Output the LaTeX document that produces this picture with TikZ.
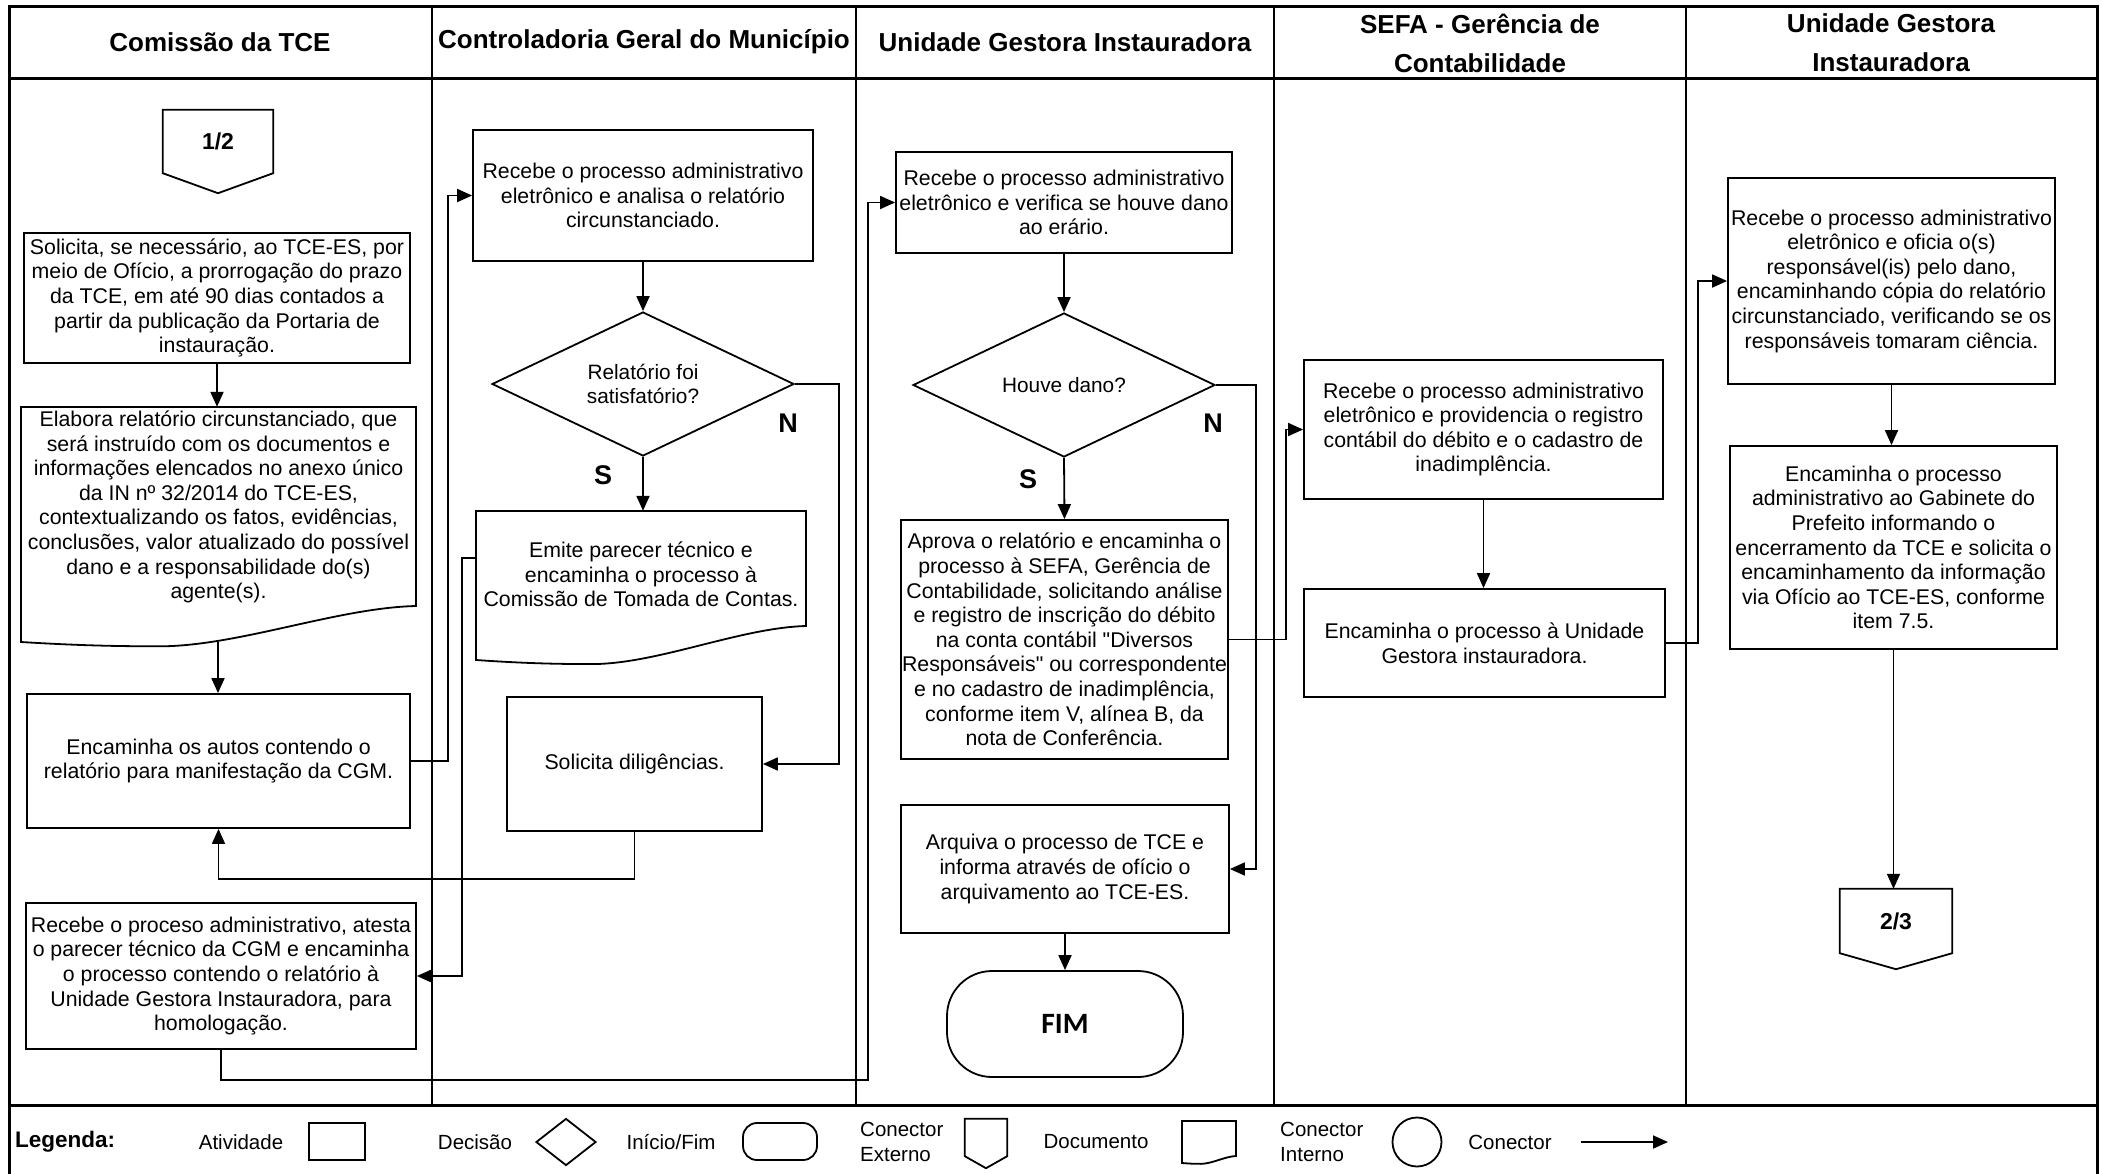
\documentclass[tikz,border=0pt]{standalone}
\usepackage{fontspec}
\setmainfont{Liberation Sans}[Ligatures=TeXOff]
\newfontfamily\fimfont{Carlito}
\usetikzlibrary{arrows.meta,calc,shapes.geometric}
\tikzset{
 frameline/.style={line width=3pt},
 laneline/.style={line width=2pt},
 act/.style={draw, line width=1.8pt, align=center, inner sep=0pt, font=\fontsize{21.3}{24.6}\selectfont},
 doctext/.style={align=center, inner sep=0pt, font=\fontsize{21.3}{24.6}\selectfont},
 dec/.style={draw, diamond, aspect=2.1, line width=1.8pt, align=center, inner sep=0pt, font=\fontsize{20.8}{24}\selectfont},
 term/.style={draw, rounded corners=45pt, line width=1.8pt, font=\fimfont\bfseries\fontsize{29.5}{32}\selectfont},
 shapeline/.style={line width=1.8pt},
 conn/.style={line width=1.8pt, -{Triangle[length=15pt,width=13pt]}},
 hdr/.style={font=\bfseries\fontsize{26}{39}\selectfont, align=center},
 yn/.style={font=\bfseries\fontsize{27}{30}\selectfont},
 offpage/.style={inner sep=0pt, font=\bfseries\fontsize{23}{26}\selectfont},
 legtext/.style={font=\fontsize{20.5}{25}\selectfont, align=left, inner sep=0pt},
 legshape/.style={draw, line width=1.8pt, inner sep=0pt},
}
% document outline: x0 x1 top yRight depth
\newcommand\mydoc[5]{\draw[shapeline] (#1,#3) -- (#2,#3) -- (#2,#4) .. controls ({#1+0.8*(#2-#1)},{#4+0.05*#5}) and ({#1+0.55*(#2-#1)},{#4+1.12*#5}) .. ({#1+0.35*(#2-#1)},{#4+1.12*#5}) .. controls ({#1+0.22*(#2-#1)},{#4+1.12*#5}) and ({#1+0.12*(#2-#1)},{#4+1.08*#5}) .. (#1,{#4+#5}) -- cycle;}
\begin{document}
\begin{tikzpicture}[x=1pt,y=-1pt]
\useasboundingbox (0,0) rectangle (2102,1173);
\fill[white] (0,0) rectangle (2102,1173);
% frame
\draw[frameline] (9,6) rectangle (2097,1178);
\draw[frameline] (9,78) -- (2097,78);
\draw[frameline] (9,1105) -- (2097,1105);
\foreach \x in {432,856,1274,1686} \draw[laneline] (\x,6) -- (\x,1105);
% headers
\node[hdr] (h1) at (220,42) {Comissão da TCE};
\node[hdr] (h2) at (644,42) {Controladoria Geral do Município};
\node[hdr] (h3) at (1065,42) {Unidade Gestora Instauradora};
\node[hdr] (h4) at (1480,43) {SEFA - Gerência de\\Contabilidade};
\node[hdr] (h5) at (1891,43) {Unidade Gestora\\Instauradora};

% lane 1
\node[offpage, minimum width=110pt, minimum height=63pt] (c12) at (218,141.5) {1/2};
\draw[shapeline] (c12.north west) -- (c12.north east) -- (c12.south east) -- ($(c12.south)+(0,20)$) -- (c12.south west) -- cycle;
\node[act, minimum width=386pt, minimum height=130pt] (solicita) at (217,298) {Solicita, se necessário, ao TCE-ES,  por\\meio de Ofício, a prorrogação do prazo\\da TCE,  em até 90 dias contados a\\partir da publicação da Portaria de\\instauração.};
\node[doctext, minimum width=395pt, minimum height=200pt] (elabora) at (218.5,507) {Elabora relatório circunstanciado, que\\será instruído com os documentos e\\informações elencados no anexo único\\da IN nº 32/2014 do TCE-ES,\\contextualizando os fatos, evidências,\\conclusões, valor atualizado do possível\\dano e a responsabilidade do(s)\\agente(s).};
\mydoc{21}{416}{407}{606}{36}
\coordinate (elaboraOut) at (218,641);
\node[act, minimum width=383pt, minimum height=134pt] (encaminha) at (218.5,761) {Encaminha os autos contendo o\\relatório para manifestação da CGM.};
\node[act, minimum width=390pt, minimum height=146pt] (recebeProc) at (221,976) {Recebe o proceso administrativo, atesta\\o parecer técnico da CGM e encaminha\\o processo contendo o relatório à\\Unidade  Gestora Instauradora, para\\homologação.};

% lane 2
\node[act, minimum width=340pt, minimum height=131pt] (cgmRecebe) at (643,195.5) {Recebe o processo administrativo\\eletrônico e analisa o relatório\\circunstanciado.};
\node[dec, minimum width=302pt, minimum height=144pt] (d1) at (643,384) {Relatório foi\\satisfatório?};
\node[doctext, minimum width=330pt, minimum height=127pt] (emite) at (641,574.5) {Emite  parecer técnico e\\encaminha o processo à\\Comissão de Tomada de Contas.};
\mydoc{476}{806}{511}{626}{34}
\coordinate (emiteOut) at (476,558);
\node[act, minimum width=255pt, minimum height=134pt] (dilig) at (634.5,764) {Solicita diligências.};
\node[yn] (s1) at (603,475) {S};
\node[yn] (n1) at (788,423) {N};

% lane 3
\node[act, minimum width=336pt, minimum height=101pt] (ugiRecebe) at (1064,202.5) {Recebe o processo administrativo\\eletrônico e verifica se houve dano\\ao erário.};
\node[dec, minimum width=302pt, minimum height=144pt] (d2) at (1064,385) {Houve dano?};
\node[act, minimum width=327pt, minimum height=239pt] (aprova) at (1064.5,639.5) {Aprova o relatório e encaminha o\\processo à SEFA, Gerência de\\Contabilidade, solicitando análise\\e registro de inscrição do débito\\na conta contábil "Diversos\\Responsáveis" ou correspondente\\e no cadastro de inadimplência,\\conforme item V, alínea B, da\\nota de Conferência.};
\node[act, minimum width=328pt, minimum height=128pt] (arquiva) at (1065,869) {Arquiva o processo de TCE e\\informa através de ofício o\\arquivamento ao TCE-ES.};
\node[term, minimum width=236pt, minimum height=106pt] (fim) at (1065,1024) {\raisebox{-4pt}{FIM}};
\node[yn] (s2) at (1028,479) {S};
\node[yn] (n2) at (1213,423) {N};

% lane 4
\node[act, minimum width=359pt, minimum height=139pt] (sefaRecebe) at (1483.5,429.5) {Recebe o processo administrativo\\eletrônico e providencia o registro\\contábil do débito e o cadastro de\\inadimplência.};
\node[act, minimum width=361pt, minimum height=108pt] (sefaEnc) at (1484.5,643) {Encaminha  o processo à Unidade\\Gestora instauradora.};

% lane 5
\node[act, minimum width=327pt, minimum height=206pt] (ugi2Recebe) at (1891.5,281) {Recebe o processo administrativo\\eletrônico e oficia o(s)\\responsável(is) pelo dano,\\encaminhando cópia do relatório\\circunstanciado, verificando se os\\responsáveis tomaram ciência.};
\node[act, minimum width=327pt, minimum height=203pt] (ugi2Enc) at (1893.5,547.5) {Encaminha o processo\\administrativo ao Gabinete do\\Prefeito informando o\\encerramento da TCE e solicita o\\encaminhamento da informação\\via Ofício ao TCE-ES,  conforme\\item 7.5.};
\node[offpage, minimum width=112pt, minimum height=64pt] (c23) at (1896,921) {2/3};
\draw[shapeline] (c23.north west) -- (c23.north east) -- (c23.south east) -- ($(c23.south)+(0,16)$) -- (c23.south west) -- cycle;

% connectors
\draw[conn] (solicita.south) -- (solicita.south |- elabora.north);
\draw[conn] (elaboraOut) -- (elaboraOut |- encaminha.north);
\draw[conn] (encaminha.east) -- ++(37,0) |- (cgmRecebe.west);
\draw[conn] (cgmRecebe.south) -- (d1.north);
\draw[conn] (d1.south) -- (d1.south |- emite.north);
\draw[conn] (d1.east) -- ++(44,0) |- (dilig.east);
\draw[conn] (dilig.south) -- ++(0,47) -| (encaminha.south);
\draw[conn] (emiteOut) -- ++(-14,0) |- (recebeProc.east);
\draw[conn] (recebeProc.south) -- ++(0,30) -| ($(ugiRecebe.west)+(-27,0)$) -- (ugiRecebe.west);
\draw[conn] (ugiRecebe.south) -- (d2.north);
\draw[conn] (d2.south) -- (aprova.north);
\draw[conn] (d2.east) -- ++(40,0) |- (arquiva.east);
\draw[conn] (aprova.east) -- ++(57,0) |- (sefaRecebe.west);
\draw[conn] (arquiva.south) -- (fim.north);
\draw[conn] (sefaRecebe.south) -- (sefaRecebe.south |- sefaEnc.north);
\draw[conn] (sefaEnc.east) -- ++(32,0) |- (ugi2Recebe.west);
\draw[conn] (ugi2Recebe.south) -- (ugi2Recebe.south |- ugi2Enc.north);
\draw[conn] (ugi2Enc.south) -- (ugi2Enc.south |- c23.north);

% legend
\node[font=\bfseries\fontsize{22.5}{26}\selectfont, anchor=west, inner sep=0pt] (leg) at (15,1142) {Legenda:};
\node[legtext] (lAtiv) at (241,1142) {Atividade};
\node[legshape, minimum width=56pt, minimum height=37pt] (legRect) at (337,1141.5) {};
\node[legtext] (lDec) at (475,1142) {Decisão};
\node[legshape, diamond, minimum width=60pt, minimum height=47pt] (legDia) at (566,1142) {};
\node[legtext] (lIni) at (671,1142) {Início/Fim};
\node[legshape, rounded corners=14pt, minimum width=74pt, minimum height=37pt] (legTerm) at (780,1141.5) {};
\node[legtext, anchor=west] (lExt) at (860,1142) {Conector\\Externo};
\node[inner sep=0pt, minimum width=42pt, minimum height=37pt] (legPent) at (986,1137.5) {};
\draw[shapeline] (legPent.north west) -- (legPent.north east) -- (legPent.south east) -- ($(legPent.south)+(0,12)$) -- (legPent.south west) -- cycle;
\node[legtext] (lDoc) at (1096,1142) {Documento};
\node[inner sep=0pt, minimum width=54pt, minimum height=35pt] (legDoc) at (1209,1138.5) {};
\mydoc{1182}{1236}{1121}{1156}{7}
\node[legtext, anchor=west] (lInt) at (1280,1142) {Conector\\Interno};
\node[legshape, circle, minimum size=49pt] (legCirc) at (1417,1142) {};
\node[legtext] (lCon) at (1510,1142) {Conector};
\coordinate (legA) at (1581,1142);
\coordinate (legB) at (1668,1142);
\draw[conn] (legA) -- (legB);
\end{tikzpicture}
\end{document}
